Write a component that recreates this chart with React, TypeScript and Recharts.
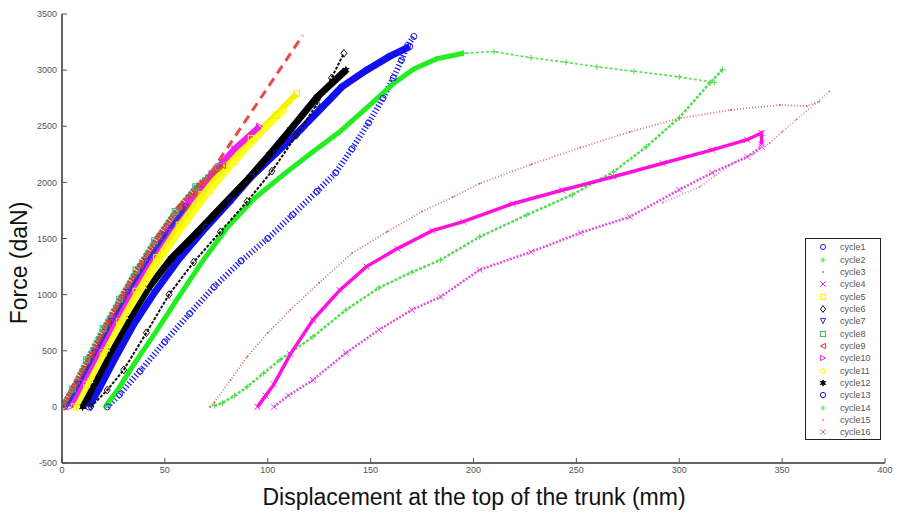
import React from 'react';
import { LineChart, Line, XAxis, YAxis, Legend } from 'recharts';

type Pt = [number, number];

const xTicks = [0, 50, 100, 150, 200, 250, 300, 350, 400];
const yTicks = [-500, 0, 500, 1000, 1500, 2000, 2500, 3000, 3500];

// displacement (mm), force (daN)
const cycle1: Pt[] = [[22, 0], [28, 110], [38, 320], [50, 580], [62, 830], [74, 1070], [87, 1300], [100, 1500], [112, 1710], [124, 1920], [133, 2085], [141, 2300], [149, 2530], [156, 2750], [161, 2930], [165, 3090], [168, 3220], [171, 3300]];
const cycle2: Pt[] = [[21, 0], [27, 150], [35, 380], [45, 650], [56, 960], [68, 1290], [80, 1590], [93, 1850], [107, 2060], [121, 2260], [135, 2450], [149, 2680], [161, 2880], [171, 3010], [182, 3100], [195, 3150], [210, 3165], [228, 3110], [245, 3070], [260, 3030], [278, 2990], [300, 2940], [317, 2890]];
const cycle3: Pt[] = [[72, 0], [74, 40], [82, 240], [90, 446], [100, 660], [111, 865], [125, 1105], [141, 1370], [158, 1560], [175, 1740], [190, 1870], [203, 1990], [228, 2160], [252, 2310], [276, 2450], [300, 2570], [325, 2645], [349, 2690], [362, 2680], [368, 2720]];
const cycle4: Pt[] = [[95, 0], [99, 100], [103, 200], [111, 470], [122, 775], [135, 1040], [148, 1250], [163, 1410], [180, 1570], [195, 1650], [219, 1810], [243, 1930], [268, 2050], [292, 2170], [316, 2290], [333, 2380], [340, 2440], [340, 2340]];
const cycle5: Pt[] = [[6, 0], [12, 200], [20, 480], [28, 760], [36, 1030], [46, 1330], [57, 1620], [68, 1890], [80, 2150], [92, 2390], [104, 2600], [114, 2790]];
const cycle6: Pt[] = [[14, 0], [22, 150], [30, 330], [41, 660], [52, 1000], [64, 1290], [77, 1560], [90, 1830], [102, 2100], [114, 2420], [124, 2700], [131, 2930], [137, 3150]];
const cycle7: Pt[] = [[2, 0], [8, 200], [16, 480], [24, 760], [32, 1020], [41, 1290], [50, 1530], [60, 1780]];
const cycle8: Pt[] = [[0, 0], [5, 160], [12, 420], [20, 700], [28, 960], [36, 1220], [45, 1480], [55, 1740], [65, 1960], [76, 2140]];
const cycle9: Pt[] = [[0, 0], [6, 190], [14, 460], [22, 740], [29, 980], [38, 1260], [47, 1520], [57, 1780], [67, 1980], [78, 2150]];
const cycle10: Pt[] = [[4, 0], [10, 220], [18, 500], [26, 780], [33, 1010], [42, 1290], [52, 1570], [62, 1830], [73, 2080], [84, 2300], [96, 2500]];
const cycle11: Pt[] = [[7, 0], [14, 240], [22, 520], [31, 810], [40, 1080], [50, 1370], [61, 1650], [72, 1920], [84, 2180], [96, 2420], [108, 2640]];
const cycle12: Pt[] = [[10, 0], [16, 210], [24, 500], [33, 790], [42, 1060], [53, 1320], [66, 1560], [79, 1810], [91, 2040], [101, 2250], [111, 2470], [124, 2760], [138, 3000]];
const cycle13: Pt[] = [[13, 0], [18, 160], [26, 440], [35, 740], [45, 1020], [57, 1320], [70, 1600], [82, 1840], [92, 2050], [104, 2260], [116, 2470], [126, 2660], [136, 2850], [148, 3000], [159, 3120], [169, 3210]];
const cycle14: Pt[] = [[74, 10], [78, 36], [84, 100], [90, 180], [98, 300], [106, 420], [122, 624], [138, 864], [154, 1060], [170, 1200], [184, 1310], [203, 1515], [226, 1711], [248, 1890], [268, 2094], [284, 2317], [300, 2576], [315, 2888], [321, 3004]];
const cycle15: Pt[] = [[373, 2810], [366, 2700], [357, 2560], [350, 2450], [344, 2350], [336, 2250], [326, 2170], [310, 1960], [292, 1820]];
const cycle16: Pt[] = [[103, 0], [110, 100], [122, 240], [138, 481], [154, 686], [170, 864], [184, 980], [203, 1221], [228, 1381], [252, 1551], [276, 1693], [300, 1934], [316, 2085], [333, 2228], [340, 2317]];
const stiffness: Pt[] = [[60, 1750], [117, 3310]];

const cycleNames = ['cycle1', 'cycle2', 'cycle3', 'cycle4', 'cycle5', 'cycle6', 'cycle7', 'cycle8', 'cycle9', 'cycle10', 'cycle11', 'cycle12', 'cycle13', 'cycle14', 'cycle15', 'cycle16'];
const cycleData = [cycle1, cycle2, cycle3, cycle4, cycle5, cycle6, cycle7, cycle8, cycle9, cycle10, cycle11, cycle12, cycle13, cycle14, cycle15, cycle16];
const cycleMarkers = ['o', '+', '.', 'x', 's', 'd', 'v', 's', '<', '>', 'p', 'h', 'o', '+', '.', 'x'];
const cycleColors = ['#2020e8', '#22ee22', '#cf6f6f', '#ff11dd', '#f4f400', '#111111', '#3030d0', '#33bb77', '#ee3030', '#ee22ee', '#ffff22', '#000000', '#1010ee', '#55dd55', '#df86b4', '#e050e0'];
const cycleWidths = [6, 5, 1.7, 3.5, 6, 2, 4, 5, 5, 6, 5, 7, 7, 2.5, 1.7, 2.5];
const cycleDashes = ['1.3 2.2', undefined, '1 2', undefined, undefined, '3 1.5', undefined, '3 1', '2 1', undefined, undefined, undefined, undefined, '3 1.5', '1 2', '2 1.5'];
const drawOrder = [0, 1, 13, 2, 14, 15, 3, 12, 5, 11, 4, 10, 9, 6, 7, 8];
// cycle2: dense loading branch, then sparse plateau branch
const cycle2Knee = 15;

const toRows = (pts: Pt[]) => pts.map(([x, f]) => ({ x, f }));

const tickFont = { fontSize: 9, fill: '#555', fontFamily: '"Liberation Sans Narrow", "Liberation Sans", Arial, sans-serif' };
const boxLine = { stroke: '#333', strokeWidth: 1.5 };

function Mark({ shape, cx, cy, color, s }: { shape: string; cx: number; cy: number; color: string; s: number }) {
  const sw = 1;
  switch (shape) {
    case 'o':
      return <circle cx={cx} cy={cy} r={s} fill="none" stroke={color} strokeWidth={sw} />;
    case '+':
      return <path d={`M${cx - s},${cy}H${cx + s}M${cx},${cy - s}V${cy + s}`} stroke={color} strokeWidth={sw} />;
    case '.':
      return <circle cx={cx} cy={cy} r={1} fill={color} />;
    case 'x':
      return <path d={`M${cx - s},${cy - s}L${cx + s},${cy + s}M${cx - s},${cy + s}L${cx + s},${cy - s}`} stroke={color} strokeWidth={sw} />;
    case 's':
      return <rect x={cx - s} y={cy - s} width={2 * s} height={2 * s} fill="none" stroke={color} strokeWidth={sw} />;
    case 'd':
      return <path d={`M${cx},${cy - s * 1.3}L${cx + s},${cy}L${cx},${cy + s * 1.3}L${cx - s},${cy}Z`} fill="none" stroke={color} strokeWidth={sw} />;
    case 'v':
      return <path d={`M${cx - s},${cy - s}L${cx + s},${cy - s}L${cx},${cy + s}Z`} fill="none" stroke={color} strokeWidth={sw} />;
    case '<':
      return <path d={`M${cx + s},${cy - s}L${cx + s},${cy + s}L${cx - s},${cy}Z`} fill="none" stroke={color} strokeWidth={sw} />;
    case '>':
      return <path d={`M${cx - s},${cy - s}L${cx - s},${cy + s}L${cx + s},${cy}Z`} fill="none" stroke={color} strokeWidth={sw} />;
    case 'p':
    case 'h': {
      const n = shape === 'p' ? 5 : 6;
      const pts: string[] = [];
      for (let i = 0; i < 2 * n; i++) {
        const r = i % 2 === 0 ? s * 1.2 : s * 0.5;
        const a = -Math.PI / 2 + (i * Math.PI) / n;
        pts.push(`${cx + r * Math.cos(a)},${cy + r * Math.sin(a)}`);
      }
      return <polygon points={pts.join(' ')} fill={shape === 'h' ? color : 'none'} stroke={color} strokeWidth={sw} />;
    }
    default:
      return null;
  }
}

function CycleLegend() {
  return (
    <div style={{ width: 76, height: 202, border: '1.5px solid #222', background: '#fff', boxSizing: 'border-box', paddingTop: 2 }}>
      {cycleNames.map((name, i) => (
        <div key={name} style={{ height: 12.35, display: 'flex', alignItems: 'center' }}>
          <svg width={34} height={12} style={{ flex: 'none' }}>
            <Mark shape={cycleMarkers[i]} cx={17} cy={6} color={cycleColors[i]} s={2.6} />
          </svg>
          <span style={{ fontSize: 9, color: '#555', fontFamily: '"Liberation Sans Narrow", "Liberation Sans", Arial, sans-serif', lineHeight: '12px' }}>{name}</span>
        </div>
      ))}
    </div>
  );
}

function seriesLine(key: string, i: number, pts: Pt[], width: number, dash: string | undefined, color: string, markSize: number) {
  return (
    <Line
      key={key}
      xAxisId="b"
      yAxisId="l"
      name={cycleNames[i]}
      data={toRows(pts)}
      dataKey="f"
      type="linear"
      stroke={color}
      strokeWidth={width}
      strokeDasharray={dash}
      dot={(p: any) => (
        <Mark key={`${key}-${p.index}`} shape={cycleMarkers[i]} cx={p.cx} cy={p.cy} color={color} s={markSize} />
      )}
      isAnimationActive={false}
    />
  );
}

export default function App() {
  return (
    <div style={{ position: 'absolute', left: 0, top: 0, background: '#fff' }}>
      <LineChart width={899} height={514} margin={{ top: 14, right: 14, bottom: 20, left: 0 }}>
        <XAxis
          xAxisId="b"
          type="number"
          dataKey="x"
          domain={[0, 400]}
          ticks={xTicks}
          allowDataOverflow
          height={31}
          tickSize={-5}
          tickMargin={9}
          tick={tickFont}
          axisLine={boxLine}
          tickLine={{ stroke: '#555' }}
          label={() => (
            <text x={474} y={505} textAnchor="middle" fontSize={23} fill="#111" fontFamily='"Liberation Sans", Arial, sans-serif'>
              Displacement at the top of the trunk (mm)
            </text>
          )}
        />
        <XAxis
          xAxisId="t"
          type="number"
          orientation="top"
          domain={[0, 400]}
          ticks={xTicks}
          height={0}
          tickSize={-5}
          tickFormatter={() => ''}
          axisLine={boxLine}
          tickLine={{ stroke: '#555' }}
        />
        <YAxis
          yAxisId="l"
          type="number"
          domain={[-500, 3500]}
          ticks={yTicks}
          allowDataOverflow
          width={62}
          tickSize={-5}
          tickMargin={10}
          tick={tickFont}
          axisLine={boxLine}
          tickLine={{ stroke: '#555' }}
          label={() => (
            <text x={27} y={263} transform="rotate(-90 27 263)" textAnchor="middle" fontSize={23} fill="#111" fontFamily='"Liberation Sans", Arial, sans-serif'>
              Force (daN)
            </text>
          )}
        />
        <YAxis
          yAxisId="r"
          type="number"
          orientation="right"
          domain={[-500, 3500]}
          ticks={yTicks}
          width={0}
          tickSize={-5}
          tickFormatter={() => ''}
          axisLine={boxLine}
          tickLine={{ stroke: '#555' }}
        />
        {drawOrder.map((i) =>
          i === 1
            ? [
                seriesLine('cycle2-plateau', 1, cycle2.slice(cycle2Knee - 1), 1.6, '3 2', '#55e055', 3),
                seriesLine('cycle2-loading', 1, cycle2.slice(0, cycle2Knee + 1), 5, undefined, cycleColors[1], 3),
              ]
            : seriesLine(cycleNames[i], i, cycleData[i], cycleWidths[i], cycleDashes[i], cycleColors[i], 3)
        )}
        <Line
          xAxisId="b"
          yAxisId="l"
          name="stiffness"
          data={toRows(stiffness)}
          dataKey="f"
          type="linear"
          stroke="#e84a4a"
          strokeWidth={3}
          strokeDasharray="9 6"
          dot={false}
          legendType="none"
          isAnimationActive={false}
        />
        <Legend
          layout="vertical"
          align="center"
          verticalAlign="middle"
          content={() => <CycleLegend />}
          wrapperStyle={{ left: 805, top: 238, width: 76, height: 202 }}
        />
      </LineChart>
    </div>
  );
}
